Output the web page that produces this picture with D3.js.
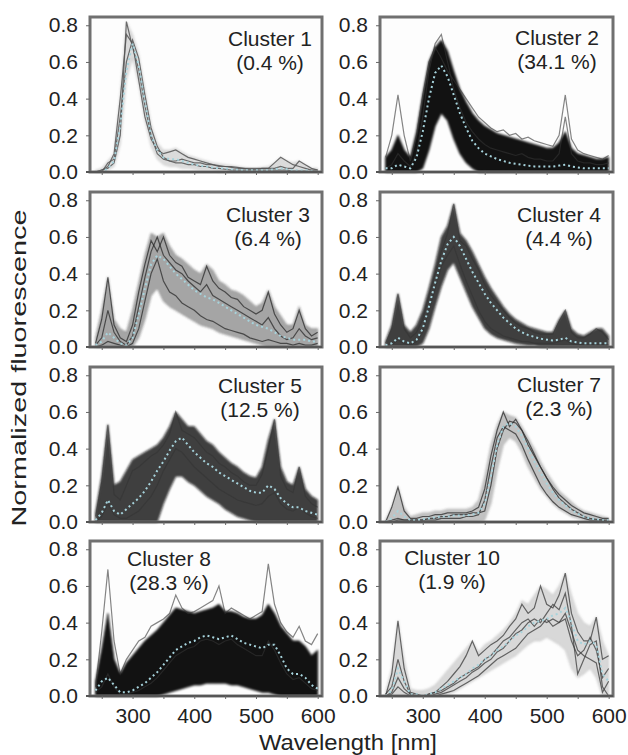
<!DOCTYPE html>
<html>
<head>
<meta charset="utf-8">
<script src="https://cdn.jsdelivr.net/npm/d3@7"></script>
<style>
  body { margin: 0; background: #fff; }
  svg text { font-family: "Liberation Sans", Arial, Helvetica, sans-serif; fill: #222; }
</style>
</head>
<body>
<svg id="chart" width="628" height="755"></svg>
<script>
// wavelength grid (nm) shared by every spectrum
const wavelengths = [240, 250, 260, 270, 280, 290, 300, 310, 320, 330, 340, 350, 360, 370, 380, 390, 400, 410, 420,
  430, 440, 450, 460, 470, 480, 490, 500, 510, 520, 530, 540, 550, 560, 570, 580, 590, 600];

const xTicks = [300, 400, 500, 600];
const yTicks = [0, 0.2, 0.4, 0.6, 0.8];

const clusterNames = ["Cluster 1", "Cluster 2", "Cluster 3", "Cluster 4", "Cluster 5", "Cluster 7", "Cluster 8", "Cluster 10"];
const clusterShares = ["(0.4 %)", "(34.1 %)", "(6.4 %)", "(4.4 %)", "(12.5 %)", "(2.3 %)", "(28.3 %)", "(1.9 %)"];

// cluster 1
const c1Mean = [0, 0, 0.02, 0.06, 0.25, 0.55, 0.7, 0.58, 0.38, 0.2, 0.12, 0.08, 0.07, 0.07, 0.06, 0.05, 0.04, 0.035, 0.03,
  0.025, 0.02, 0.02, 0.015, 0.012, 0.01, 0.01, 0.01, 0.01, 0.01, 0.015, 0.02, 0.015, 0.01, 0.01, 0.01, 0.005, 0];
const c1Hi = [0.01, 0.02, 0.06, 0.1, 0.42, 0.82, 0.75, 0.64, 0.45, 0.26, 0.16, 0.12, 0.12, 0.13, 0.11, 0.09, 0.08, 0.07, 0.06,
  0.05, 0.045, 0.04, 0.035, 0.03, 0.025, 0.02, 0.02, 0.025, 0.03, 0.05, 0.08, 0.06, 0.05, 0.06, 0.04, 0.02, 0.02];
const c1Lo = [0, 0, 0.01, 0.03, 0.15, 0.5, 0.62, 0.48, 0.28, 0.14, 0.07, 0.04, 0.03, 0.03, 0.02, 0.02, 0.015, 0.01, 0.01,
  0.01, 0, 0, 0, 0, 0, 0, 0, 0, 0, 0, 0, 0, 0, 0, 0, 0, 0];
const c1Spectra = [
  [0, 0.01, 0.03, 0.1, 0.4, 0.75, 0.7, 0.5, 0.3, 0.18, 0.12, 0.1, 0.11, 0.12, 0.1, 0.08, 0.07, 0.06, 0.05,
    0.04, 0.035, 0.03, 0.025, 0.02, 0.02, 0.015, 0.015, 0.02, 0.02, 0.05, 0.08, 0.06, 0.04, 0.03, 0.02, 0.01, 0.01],
  [0, 0, 0.05, 0.07, 0.3, 0.6, 0.72, 0.62, 0.42, 0.24, 0.14, 0.08, 0.06, 0.05, 0.05, 0.04, 0.04, 0.03, 0.03,
    0.02, 0.02, 0.015, 0.01, 0.01, 0.01, 0.01, 0.01, 0.01, 0.01, 0.01, 0.01, 0.01, 0.005, 0.005, 0.005, 0, 0],
  [0, 0.01, 0.02, 0.05, 0.2, 0.82, 0.68, 0.56, 0.36, 0.2, 0.1, 0.07, 0.06, 0.06, 0.07, 0.06, 0.05, 0.05, 0.04,
    0.04, 0.03, 0.03, 0.03, 0.025, 0.02, 0.02, 0.02, 0.02, 0.02, 0.02, 0.03, 0.02, 0.02, 0.06, 0.04, 0.02, 0.01]
];

// cluster 2
const c2Mean = [0.02, 0.02, 0.04, 0.03, 0.02, 0.08, 0.22, 0.4, 0.54, 0.58, 0.52, 0.42, 0.32, 0.24, 0.17, 0.13, 0.1, 0.085, 0.07,
  0.06, 0.05, 0.045, 0.04, 0.035, 0.03, 0.03, 0.03, 0.03, 0.035, 0.04, 0.03, 0.025, 0.02, 0.02, 0.02, 0.02, 0.02];
const c2Hi = [0.08, 0.12, 0.2, 0.12, 0.08, 0.22, 0.42, 0.6, 0.68, 0.72, 0.66, 0.55, 0.45, 0.38, 0.32, 0.28, 0.25, 0.23, 0.21,
  0.2, 0.19, 0.18, 0.17, 0.16, 0.15, 0.14, 0.13, 0.13, 0.16, 0.22, 0.13, 0.1, 0.09, 0.08, 0.07, 0.07, 0.08];
const c2Lo = [0, 0, 0, 0, 0, 0, 0.02, 0.12, 0.25, 0.32, 0.28, 0.18, 0.1, 0.05, 0.02, 0, 0, 0, 0,
  0, 0, 0, 0, 0, 0, 0, 0, 0, 0, 0, 0, 0, 0, 0, 0, 0, 0];
const c2Spectra = [
  [0.08, 0.2, 0.42, 0.2, 0.06, 0.2, 0.42, 0.6, 0.68, 0.62, 0.55, 0.5, 0.45, 0.4, 0.35, 0.3, 0.27, 0.24, 0.22,
    0.23, 0.2, 0.21, 0.18, 0.19, 0.17, 0.16, 0.15, 0.14, 0.2, 0.42, 0.18, 0.12, 0.1, 0.09, 0.08, 0.07, 0.09],
  [0.02, 0.04, 0.1, 0.06, 0.03, 0.1, 0.3, 0.55, 0.7, 0.75, 0.6, 0.45, 0.35, 0.27, 0.22, 0.18, 0.15, 0.13, 0.12,
    0.11, 0.1, 0.09, 0.1, 0.08, 0.07, 0.07, 0.06, 0.06, 0.1, 0.3, 0.1, 0.06, 0.05, 0.05, 0.04, 0.04, 0.05]
];

// cluster 3
const c3Mean = [0.01, 0.03, 0.08, 0.05, 0.02, 0.01, 0.05, 0.18, 0.32, 0.45, 0.5, 0.48, 0.44, 0.4, 0.37, 0.34, 0.31, 0.29, 0.27,
  0.26, 0.24, 0.22, 0.2, 0.18, 0.16, 0.14, 0.12, 0.11, 0.1, 0.08, 0.06, 0.05, 0.04, 0.04, 0.04, 0.03, 0.03];
const c3Hi = [0.05, 0.2, 0.38, 0.15, 0.1, 0.08, 0.2, 0.35, 0.5, 0.62, 0.6, 0.62, 0.55, 0.5, 0.48, 0.45, 0.42, 0.4, 0.45,
  0.42, 0.36, 0.34, 0.31, 0.3, 0.28, 0.25, 0.22, 0.24, 0.31, 0.22, 0.17, 0.12, 0.12, 0.22, 0.12, 0.1, 0.1];
const c3Lo = [0, 0, 0, 0, 0, 0, 0, 0.05, 0.15, 0.28, 0.32, 0.25, 0.22, 0.2, 0.18, 0.16, 0.14, 0.12, 0.11,
  0.1, 0.08, 0.07, 0.06, 0.05, 0.04, 0.03, 0.02, 0.01, 0, 0, 0, 0, 0, 0, 0, 0, 0];
const c3Spectra = [
  [0.02, 0.15, 0.38, 0.12, 0.05, 0.03, 0.12, 0.3, 0.45, 0.58, 0.52, 0.6, 0.5, 0.46, 0.44, 0.38, 0.36, 0.34, 0.44,
    0.36, 0.32, 0.3, 0.27, 0.26, 0.22, 0.2, 0.18, 0.2, 0.3, 0.18, 0.12, 0.08, 0.1, 0.2, 0.1, 0.06, 0.08],
  [0, 0.01, 0.03, 0.02, 0.01, 0, 0.02, 0.1, 0.25, 0.4, 0.48, 0.36, 0.3, 0.28, 0.24, 0.22, 0.2, 0.17, 0.15,
    0.14, 0.12, 0.1, 0.09, 0.08, 0.07, 0.05, 0.04, 0.03, 0.04, 0.03, 0.02, 0.02, 0.01, 0.02, 0.01, 0.01, 0.02],
  [0.01, 0.05, 0.2, 0.08, 0.03, 0.01, 0.06, 0.22, 0.38, 0.52, 0.6, 0.5, 0.46, 0.42, 0.4, 0.36, 0.33, 0.3, 0.34,
    0.28, 0.26, 0.24, 0.22, 0.2, 0.18, 0.16, 0.14, 0.12, 0.16, 0.1, 0.06, 0.04, 0.05, 0.1, 0.06, 0.04, 0.05]
];

// cluster 4
const c4Mean = [0.01, 0.02, 0.05, 0.03, 0.02, 0.04, 0.1, 0.22, 0.35, 0.47, 0.56, 0.6, 0.55, 0.48, 0.41, 0.35, 0.29, 0.24, 0.2,
  0.16, 0.13, 0.1, 0.08, 0.065, 0.055, 0.045, 0.04, 0.035, 0.04, 0.05, 0.03, 0.025, 0.02, 0.02, 0.02, 0.02, 0.02];
const c4Hi = [0.03, 0.12, 0.29, 0.12, 0.08, 0.12, 0.2, 0.32, 0.45, 0.6, 0.66, 0.78, 0.62, 0.58, 0.52, 0.45, 0.38, 0.32, 0.27,
  0.22, 0.18, 0.15, 0.13, 0.11, 0.1, 0.09, 0.08, 0.08, 0.15, 0.2, 0.1, 0.07, 0.06, 0.08, 0.1, 0.1, 0.06];
const c4Lo = [0, 0, 0, 0, 0, 0, 0.02, 0.1, 0.22, 0.33, 0.42, 0.46, 0.38, 0.3, 0.22, 0.16, 0.1, 0.07, 0.05,
  0.04, 0.03, 0.02, 0.015, 0.01, 0.01, 0, 0, 0, 0, 0, 0, 0, 0, 0, 0, 0, 0];
const c4Spectra = [
  [0.02, 0.1, 0.29, 0.1, 0.05, 0.08, 0.15, 0.28, 0.4, 0.52, 0.62, 0.78, 0.58, 0.55, 0.48, 0.42, 0.34, 0.28, 0.24,
    0.2, 0.16, 0.13, 0.11, 0.1, 0.08, 0.07, 0.07, 0.07, 0.14, 0.2, 0.08, 0.05, 0.05, 0.07, 0.1, 0.08, 0.04],
  [0, 0.01, 0.04, 0.02, 0.01, 0.03, 0.08, 0.2, 0.32, 0.44, 0.5, 0.55, 0.45, 0.36, 0.28, 0.2, 0.14, 0.1, 0.08,
    0.06, 0.05, 0.04, 0.03, 0.03, 0.02, 0.02, 0.02, 0.02, 0.03, 0.04, 0.02, 0.01, 0.01, 0.01, 0.01, 0.01, 0.01]
];

// cluster 5
const c5Mean = [0.01, 0.05, 0.12, 0.06, 0.04, 0.07, 0.1, 0.13, 0.17, 0.22, 0.28, 0.33, 0.39, 0.44, 0.46, 0.42, 0.38, 0.35, 0.32,
  0.3, 0.27, 0.25, 0.23, 0.21, 0.19, 0.17, 0.16, 0.16, 0.2, 0.18, 0.13, 0.1, 0.08, 0.08, 0.06, 0.05, 0.04];
const c5Hi = [0.05, 0.25, 0.53, 0.2, 0.22, 0.28, 0.34, 0.36, 0.38, 0.4, 0.42, 0.46, 0.52, 0.6, 0.56, 0.52, 0.52, 0.48, 0.44,
  0.42, 0.38, 0.35, 0.32, 0.3, 0.27, 0.25, 0.24, 0.3, 0.45, 0.56, 0.3, 0.22, 0.2, 0.3, 0.18, 0.14, 0.12];
const c5Lo = [0, 0, 0, 0, 0, 0, 0, 0, 0, 0, 0, 0.1, 0.18, 0.25, 0.25, 0.22, 0.2, 0.17, 0.14,
  0.12, 0.1, 0.07, 0.05, 0.03, 0.02, 0.01, 0, 0, 0, 0, 0, 0, 0, 0, 0, 0, 0];
const c5Spectra = [
  [0.03, 0.22, 0.53, 0.15, 0.12, 0.2, 0.28, 0.3, 0.33, 0.36, 0.38, 0.42, 0.48, 0.6, 0.5, 0.48, 0.46, 0.42, 0.38,
    0.36, 0.32, 0.3, 0.27, 0.25, 0.22, 0.2, 0.2, 0.26, 0.4, 0.56, 0.25, 0.18, 0.16, 0.3, 0.14, 0.1, 0.08],
  [0, 0.03, 0.1, 0.04, 0.02, 0.02, 0.04, 0.06, 0.1, 0.14, 0.2, 0.28, 0.34, 0.4, 0.38, 0.34, 0.3, 0.27, 0.24,
    0.21, 0.18, 0.16, 0.14, 0.12, 0.11, 0.1, 0.09, 0.1, 0.14, 0.16, 0.1, 0.07, 0.06, 0.08, 0.05, 0.03, 0.02]
];

// cluster 7
const c7Mean = [0, 0.02, 0.06, 0.03, 0.01, 0.01, 0.015, 0.02, 0.025, 0.03, 0.03, 0.035, 0.035, 0.035, 0.04, 0.05, 0.1, 0.25, 0.42,
  0.52, 0.54, 0.52, 0.47, 0.4, 0.33, 0.27, 0.21, 0.16, 0.12, 0.09, 0.065, 0.045, 0.03, 0.02, 0.015, 0.01, 0.01];
const c7Hi = [0.01, 0.08, 0.19, 0.08, 0.03, 0.04, 0.05, 0.05, 0.06, 0.06, 0.07, 0.07, 0.07, 0.07, 0.08, 0.12, 0.25, 0.42, 0.53,
  0.6, 0.58, 0.57, 0.52, 0.46, 0.4, 0.33, 0.27, 0.22, 0.17, 0.14, 0.11, 0.08, 0.06, 0.05, 0.04, 0.03, 0.02];
const c7Lo = [0, 0, 0, 0, 0, 0, 0, 0, 0, 0, 0, 0, 0, 0, 0, 0, 0.01, 0.1, 0.28,
  0.42, 0.46, 0.44, 0.38, 0.3, 0.24, 0.18, 0.14, 0.1, 0.07, 0.05, 0.03, 0.02, 0.01, 0, 0, 0, 0];
const c7Spectra = [
  [0, 0.08, 0.19, 0.06, 0.02, 0.02, 0.03, 0.03, 0.04, 0.04, 0.05, 0.05, 0.05, 0.05, 0.06, 0.08, 0.18, 0.36, 0.5,
    0.6, 0.52, 0.56, 0.5, 0.42, 0.36, 0.3, 0.24, 0.19, 0.15, 0.12, 0.09, 0.07, 0.05, 0.04, 0.03, 0.02, 0.02],
  [0, 0.01, 0.02, 0.01, 0.01, 0.01, 0.01, 0.02, 0.02, 0.03, 0.03, 0.04, 0.04, 0.04, 0.05, 0.05, 0.06, 0.2, 0.4,
    0.5, 0.55, 0.54, 0.5, 0.44, 0.37, 0.3, 0.24, 0.18, 0.13, 0.1, 0.07, 0.05, 0.03, 0.02, 0.015, 0.01, 0.01],
  [0, 0, 0.01, 0.01, 0.01, 0.01, 0.01, 0.01, 0.01, 0.02, 0.02, 0.02, 0.02, 0.03, 0.03, 0.04, 0.12, 0.3, 0.46,
    0.52, 0.5, 0.48, 0.42, 0.34, 0.27, 0.2, 0.15, 0.11, 0.08, 0.06, 0.04, 0.03, 0.02, 0.01, 0.01, 0.01, 0]
];

// cluster 8
const c8Mean = [0.03, 0.08, 0.1, 0.06, 0.02, 0.02, 0.03, 0.05, 0.07, 0.1, 0.13, 0.17, 0.21, 0.25, 0.27, 0.29, 0.3, 0.32, 0.33,
  0.32, 0.31, 0.32, 0.33, 0.31, 0.29, 0.28, 0.27, 0.26, 0.28, 0.28, 0.22, 0.15, 0.12, 0.12, 0.1, 0.06, 0.04];
const c8Hi = [0.08, 0.25, 0.45, 0.2, 0.12, 0.18, 0.22, 0.26, 0.3, 0.33, 0.36, 0.4, 0.44, 0.48, 0.47, 0.46, 0.45, 0.46, 0.47,
  0.48, 0.5, 0.46, 0.46, 0.45, 0.43, 0.42, 0.42, 0.44, 0.5, 0.45, 0.38, 0.34, 0.3, 0.3, 0.27, 0.22, 0.25];
const c8Lo = [0, 0, 0, 0, 0, 0, 0, 0, 0, 0, 0, 0.01, 0.02, 0.03, 0.04, 0.05, 0.06, 0.06, 0.07,
  0.07, 0.07, 0.07, 0.06, 0.06, 0.05, 0.04, 0.03, 0.02, 0.02, 0.01, 0, 0, 0, 0, 0, 0, 0];
const c8Spectra = [
  [0.05, 0.35, 0.69, 0.3, 0.12, 0.2, 0.25, 0.3, 0.32, 0.38, 0.4, 0.42, 0.45, 0.55, 0.48, 0.45, 0.46, 0.48, 0.5,
    0.52, 0.6, 0.45, 0.48, 0.46, 0.44, 0.42, 0.44, 0.46, 0.72, 0.5, 0.4, 0.35, 0.32, 0.38, 0.3, 0.28, 0.34],
  [0.02, 0.05, 0.12, 0.05, 0.01, 0.01, 0.02, 0.03, 0.05, 0.07, 0.1, 0.14, 0.18, 0.22, 0.24, 0.26, 0.27, 0.3, 0.31,
    0.3, 0.28, 0.3, 0.31, 0.28, 0.26, 0.24, 0.22, 0.22, 0.3, 0.25, 0.18, 0.12, 0.09, 0.1, 0.07, 0.04, 0.03]
];

// cluster 10
const c10Mean = [0, 0.03, 0.15, 0.08, 0.01, 0.01, 0, 0.01, 0.02, 0.04, 0.06, 0.08, 0.1, 0.12, 0.15, 0.17, 0.2, 0.22, 0.25,
  0.27, 0.3, 0.33, 0.35, 0.38, 0.4, 0.41, 0.42, 0.44, 0.45, 0.48, 0.4, 0.3, 0.28, 0.3, 0.28, 0.12, 0.08];
const c10Hi = [0.02, 0.15, 0.41, 0.2, 0.04, 0.03, 0.03, 0.04, 0.06, 0.1, 0.14, 0.18, 0.22, 0.26, 0.3, 0.24, 0.28, 0.3, 0.33,
  0.36, 0.4, 0.45, 0.52, 0.5, 0.55, 0.6, 0.58, 0.55, 0.6, 0.67, 0.55, 0.45, 0.4, 0.38, 0.43, 0.3, 0.22];
const c10Lo = [0, 0, 0, 0, 0, 0, 0, 0, 0, 0, 0.01, 0.02, 0.04, 0.06, 0.08, 0.1, 0.12, 0.14, 0.16,
  0.18, 0.2, 0.22, 0.25, 0.28, 0.3, 0.3, 0.32, 0.3, 0.28, 0.25, 0.15, 0.1, 0.12, 0.15, 0.1, 0, 0];
const c10Spectra = [
  [0, 0.12, 0.41, 0.15, 0.02, 0.01, 0, 0.01, 0.02, 0.05, 0.08, 0.12, 0.16, 0.22, 0.3, 0.22, 0.25, 0.28, 0.3,
    0.33, 0.38, 0.42, 0.5, 0.45, 0.48, 0.6, 0.5, 0.48, 0.55, 0.67, 0.45, 0.35, 0.3, 0.3, 0.43, 0.2, 0.22],
  [0.01, 0.05, 0.2, 0.08, 0.01, 0, 0, 0, 0.01, 0.02, 0.04, 0.06, 0.08, 0.1, 0.13, 0.15, 0.18, 0.2, 0.24,
    0.26, 0.3, 0.34, 0.36, 0.4, 0.42, 0.4, 0.45, 0.5, 0.47, 0.56, 0.38, 0.12, 0.2, 0.28, 0.3, 0.05, 0],
  [0, 0.02, 0.1, 0.04, 0.01, 0, 0, 0.01, 0.02, 0.03, 0.05, 0.07, 0.1, 0.12, 0.14, 0.16, 0.2, 0.22, 0.26,
    0.3, 0.32, 0.36, 0.4, 0.42, 0.38, 0.42, 0.4, 0.42, 0.4, 0.42, 0.3, 0.22, 0.25, 0.32, 0.25, 0.1, 0.15],
  [0, 0.01, 0.05, 0.02, 0, 0, 0, 0, 0, 0.01, 0.02, 0.03, 0.05, 0.07, 0.09, 0.11, 0.14, 0.17, 0.2,
    0.22, 0.24, 0.26, 0.3, 0.34, 0.36, 0.38, 0.42, 0.38, 0.4, 0.45, 0.35, 0.25, 0.22, 0.2, 0.18, 0.02, 0.08]
];

const means = [c1Mean, c2Mean, c3Mean, c4Mean, c5Mean, c7Mean, c8Mean, c10Mean];
const highs = [c1Hi, c2Hi, c3Hi, c4Hi, c5Hi, c7Hi, c8Hi, c10Hi];
const lows = [c1Lo, c2Lo, c3Lo, c4Lo, c5Lo, c7Lo, c8Lo, c10Lo];
const spectra = [c1Spectra, c2Spectra, c3Spectra, c4Spectra, c5Spectra, c7Spectra, c8Spectra, c10Spectra];

// ---- layout & styles ----
const colX = [90, 380];
const colW = [232, 233];
const rowY = [17, 192, 367, 541];
const panelH = 155;

// label anchor [x from panel left, baseline from panel top]
const labelPos = [[180, 29], [177, 28], [178, 30], [179, 30], [170, 26], [179, 25], [79, 25], [72, 24]];
// band fill, band opacity, trace colour, trace opacity
const looks = [
  ["#8a8a8a", 0.3, "#555", 0.85],
  ["#050505", 0.93, "#333", 0.6],
  ["#3a3a3a", 0.45, "#222", 0.7],
  ["#111", 0.8, "#333", 0.6],
  ["#111", 0.8, "#333", 0.6],
  ["#555", 0.35, "#2a2a2a", 0.75],
  ["#050505", 0.93, "#333", 0.6],
  ["#777", 0.28, "#3a3a3a", 0.75]
];

const svg = d3.select("#chart");

// soft edge for the envelopes, like a pile of thin lines
svg.append("defs").append("filter")
  .attr("id", "soft")
  .append("feGaussianBlur")
  .attr("stdDeviation", 0.8);

means.forEach((mean, i) => {
  const col = i % 2;
  const row = Math.floor(i / 2);
  const x0 = colX[col], y0 = rowY[row], w = colW[col];
  const look = looks[i];

  const x = d3.scaleLinear().domain([231, 607]).range([0, w]);
  const y = d3.scaleLinear().domain([0, 0.845]).range([panelH, 0]);

  const g = svg.append("g").attr("transform", `translate(${x0},${y0})`);

  g.append("rect")
    .attr("width", w)
    .attr("height", panelH)
    .attr("fill", "#fdfdfd");

  const plot = g.append("g");

  // envelope of all spectra in the cluster
  const area = d3.area()
    .x((d, k) => x(wavelengths[k]))
    .y0((d, k) => y(lows[i][k]))
    .y1(d => y(d));

  plot.append("path")
    .datum(highs[i])
    .attr("d", area)
    .attr("fill", look[0])
    .attr("fill-opacity", look[1])
    .attr("stroke", look[0])
    .attr("stroke-opacity", look[1] * 0.8)
    .attr("stroke-width", 1)
    .attr("filter", "url(#soft)");

  const line = d3.line()
    .x((d, k) => x(wavelengths[k]))
    .y(d => y(d));

  // single spectra
  plot.selectAll("path.spec")
    .data(spectra[i])
    .join("path")
    .attr("class", "spec")
    .attr("d", line)
    .attr("fill", "none")
    .attr("stroke", look[2])
    .attr("stroke-opacity", look[3])
    .attr("stroke-width", 1.2);

  // cluster mean
  plot.append("path")
    .datum(mean)
    .attr("d", line)
    .attr("fill", "none")
    .attr("stroke", "#a6d3dc")
    .attr("stroke-width", 2)
    .attr("stroke-dasharray", "2,3");

  // frame
  g.append("rect")
    .attr("width", w)
    .attr("height", panelH)
    .attr("fill", "none")
    .attr("stroke", "#707070")
    .attr("stroke-width", 3);

  // y axis
  const yAxis = g.append("g")
    .call(d3.axisLeft(y).tickValues(yTicks).tickSize(4).tickPadding(8).tickFormat(d3.format(".1f")));
  yAxis.select(".domain").remove();
  yAxis.selectAll("line").attr("stroke", "#666");
  yAxis.selectAll("text").attr("font-size", 21).attr("fill", "#222");

  // x axis
  const bottomRow = row === 3;
  const xAxis = g.append("g")
    .attr("transform", `translate(0,${panelH})`)
    .call(d3.axisBottom(x)
      .tickValues([250, 300, 350, 400, 450, 500, 550, 600])
      .tickSize(3)
      .tickPadding(9)
      .tickFormat(d => (bottomRow && xTicks.includes(d)) ? d : ""));
  xAxis.select(".domain").attr("stroke", "#555").attr("stroke-width", 2)
    .attr("d", `M-4,0H${w}`);
  xAxis.selectAll("line").attr("stroke", "#666");
  xAxis.selectAll("text").attr("font-size", 21).attr("fill", "#222");

  // cluster label
  const lp = labelPos[i];
  const label = g.append("text")
    .attr("text-anchor", "middle")
    .attr("font-size", 21);
  label.append("tspan").attr("x", lp[0]).attr("y", lp[1]).text(clusterNames[i]);
  label.append("tspan").attr("x", lp[0]).attr("y", lp[1] + 24).text(clusterShares[i]);
});

// axis titles
svg.append("text")
  .attr("x", 348)
  .attr("y", 750)
  .attr("text-anchor", "middle")
  .attr("font-size", 22)
  .attr("textLength", 178)
  .attr("lengthAdjust", "spacingAndGlyphs")
  .text("Wavelength [nm]");

svg.append("text")
  .attr("transform", "translate(26,368) rotate(-90)")
  .attr("text-anchor", "middle")
  .attr("font-size", 21)
  .attr("textLength", 317)
  .attr("lengthAdjust", "spacingAndGlyphs")
  .text("Normalized fluorescence");
</script>
</body>
</html>
